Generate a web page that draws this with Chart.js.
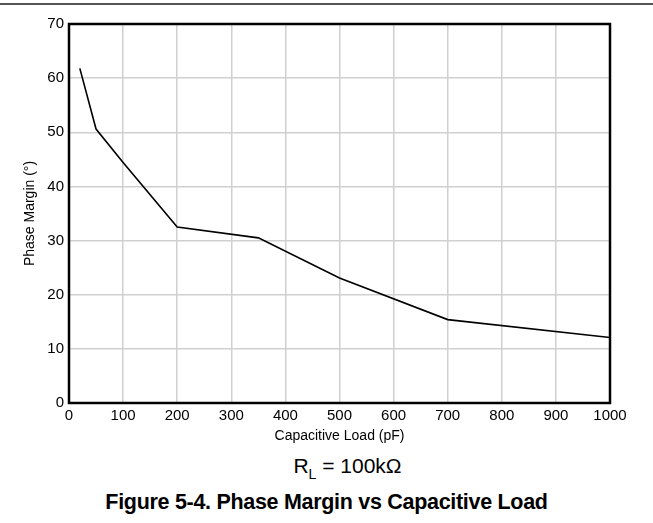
<!DOCTYPE html>
<html>
<head>
<meta charset="utf-8">
<script src="https://cdn.jsdelivr.net/npm/chart.js@4/dist/chart.umd.min.js"></script>
<style>
  body { margin: 0; background: #fff; font-family: "Liberation Sans", Arial, sans-serif; }
  #wrap { position: relative; width: 653px; height: 523px; }
  #topLine { position: absolute; left: 0; top: 3px; width: 653px; height: 2px; background: #555; }
  #chart { position: absolute; left: 0; top: 0; }
  #cond { position: absolute; left: 0; width: 653px; top: 454px; text-align: center; font-size: 21px; color: #000; padding-left: 42px; box-sizing: border-box; }
  #cond sub { font-size: 14px; vertical-align: -6px; line-height: 0; }
  #caption { position: absolute; left: 0; width: 653px; top: 490px; text-align: center; font-size: 21.5px; font-weight: bold; color: #000; letter-spacing: -0.3px; }
</style>
</head>
<body>
<div id="wrap">
  <canvas id="chart" width="653" height="450"></canvas>
  <div id="topLine"></div>
  <div id="cond">R<sub>L</sub> = 100kΩ</div>
  <div id="caption">Figure 5-4. Phase Margin vs Capacitive Load</div>
</div>
<script>
// Capacitive load (pF) and phase margin (deg)
const capLoad = [20, 50, 100, 200, 350, 500, 700, 1000];
const phaseMargin = [61.8, 50.6, 44.4, 32.5, 30.5, 23.1, 15.4, 12.1];

const xTitle = "Capacitive Load (pF)";
const yTitle = "Phase Margin (°)";

const points = capLoad.map((c, i) => ({ x: c, y: phaseMargin[i] }));

// thick black frame round the plot area
const frame = {
  id: "frame",
  afterDraw(chart) {
    const a = chart.chartArea;
    const ctx = chart.ctx;
    ctx.save();
    ctx.strokeStyle = "#000";
    ctx.lineWidth = 2.5;
    ctx.strokeRect(a.left, a.top, a.right - a.left, a.bottom - a.top);
    ctx.restore();
  }
};

const tickFont = { family: "Liberation Sans", size: 15 };
const titleFont = { family: "Liberation Sans", size: 14 };

new Chart(document.getElementById("chart").getContext("2d"), {
  type: "line",
  data: {
    datasets: [{
      data: points,
      borderColor: "#000",
      borderWidth: 1.6,
      pointRadius: 0,
      tension: 0,
      fill: false
    }]
  },
  options: {
    responsive: false,
    animation: false,
    layout: { padding: { left: 0, top: 24, right: 43, bottom: 0 } },
    plugins: { legend: { display: false }, tooltip: { enabled: false } },
    scales: {
      x: {
        type: "linear",
        min: 0,
        max: 1000,
        ticks: { stepSize: 100, color: "#000", font: tickFont, padding: 4, maxRotation: 0, callback: (v) => String(v) },
        grid: { color: "#d0d0d0", lineWidth: 1.5, drawTicks: false },
        border: { display: false },
        title: { display: true, text: xTitle, color: "#000", font: titleFont, padding: { top: 0, bottom: 5 } },
        afterFit(scale) { scale.height = 47; }
      },
      y: {
        min: 0,
        max: 70,
        ticks: { stepSize: 10, color: "#000", font: tickFont, padding: 5, callback: (v) => String(v) },
        grid: { color: "#d0d0d0", lineWidth: 1.5, drawTicks: false },
        border: { display: false },
        title: { display: true, text: yTitle, color: "#000", font: titleFont, padding: { top: 22, bottom: 0 } },
        afterFit(scale) { scale.width = 69; }
      }
    }
  },
  plugins: [frame]
});
</script>
</body>
</html>
